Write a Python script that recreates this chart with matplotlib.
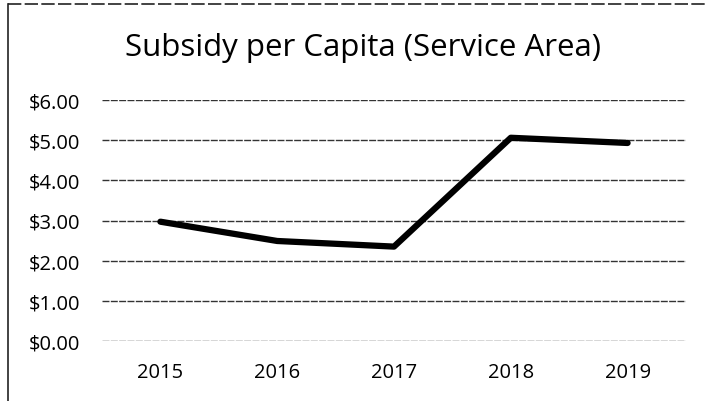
import matplotlib
matplotlib.use("Agg")
import matplotlib.pyplot as plt
from matplotlib.lines import Line2D

years = ["2015", "2016", "2017", "2018", "2019"]
subsidy = [2.97, 2.49, 2.35, 5.06, 4.93]
yticks = [0, 1, 2, 3, 4, 5, 6]
ytick_labels = ["$0.00", "$1.00", "$2.00", "$3.00", "$4.00", "$5.00", "$6.00"]
title = "Subsidy per Capita (Service Area)"

plt.rcParams['font.family'] = ['Open Sans', 'DejaVu Sans']

W, H = 705, 402
fig = plt.figure(figsize=(W / 100, H / 100), dpi=100)
ax = fig.add_axes([102 / W, (H - 342) / H, 584 / W, 241 / H])

x = list(range(len(years)))
ax.plot(x, subsidy, color='black', linewidth=4.5, solid_joinstyle='round',
        solid_capstyle='round', zorder=3)

ax.set_xlim(-0.5, len(years) - 0.5)
ax.set_ylim(0, 6)
ax.set_yticks(yticks)
ax.set_yticklabels(ytick_labels)
ax.set_xticks(x)
ax.set_xticklabels(years)
ax.tick_params(axis='both', length=0, labelsize=14.5, colors='black')
ax.tick_params(axis='y', pad=15.5)
ax.tick_params(axis='x', pad=15)
for s in ax.spines.values():
    s.set_visible(False)
ax.grid(axis='y', color='#333333', linewidth=1.0, linestyle=(0, (5, 1)))
ax.set_axisbelow(True)

fig.text(363 / W, 1 - 48 / H, title, ha='center', va='center', fontsize=22.5, color='black')

# scanned frame edges
fig.add_artist(Line2D([8 / W, 8 / W], [0, 1 - 5 / H], transform=fig.transFigure,
                      color='#222222', linewidth=1.2))
fig.add_artist(Line2D([8 / W, 1], [1 - 5 / H, 1 - 5 / H], transform=fig.transFigure,
                      color='#222222', linewidth=1.2, linestyle=(0, (8, 2))))

fig.savefig("out.png", dpi=100)
